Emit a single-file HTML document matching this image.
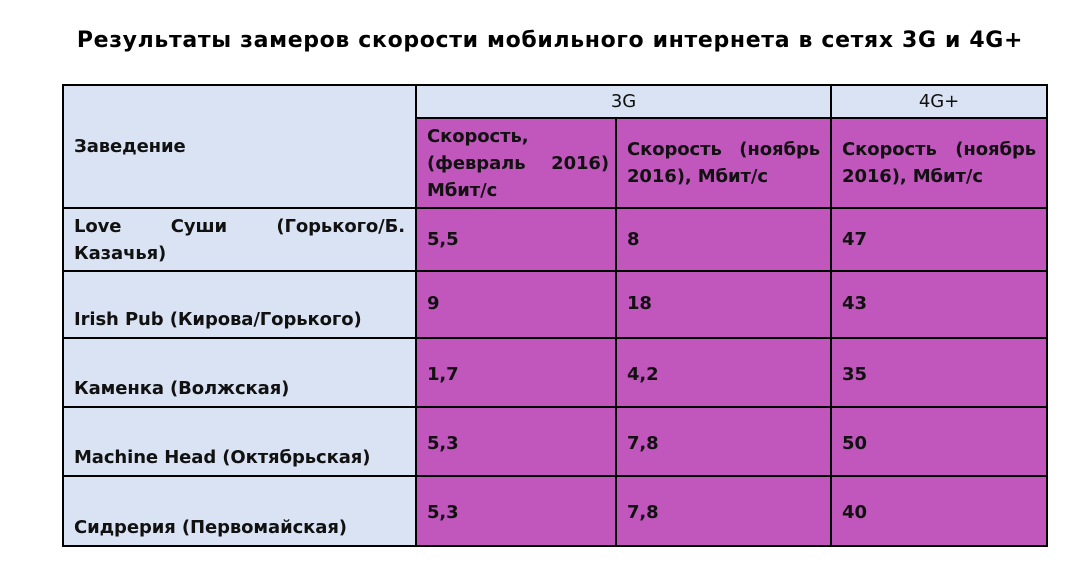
<!DOCTYPE html>
<html><head><meta charset="utf-8"><style>
body{margin:0;width:1079px;height:570px;background:#fff;position:relative;overflow:hidden;font-family:"DejaVu Sans","Liberation Sans",sans-serif;}
.t{position:absolute;top:28px;left:50px;width:1000px;text-align:center;font-weight:bold;font-size:22px;letter-spacing:0.65px;color:#000;white-space:nowrap;}
table{position:absolute;left:62px;top:84px;border-collapse:collapse;table-layout:fixed;width:984px;}
td{border:2px solid #000;font-size:18px;font-weight:bold;letter-spacing:-0.1px;color:#111;padding:0 10px;vertical-align:middle;line-height:27px;overflow:hidden;}
.b{background:#dae3f3;}
.m{background:#c157bd;}
.j{text-align:justify;text-align-last:left;}
</style></head><body>
<div class="t">Результаты замеров скорости мобильного интернета в сетях 3G и 4G+</div>
<table>
<colgroup><col style="width:353px"><col style="width:200px"><col style="width:215px"><col style="width:216px"></colgroup>
<tr style="height:33px"><td class="b" rowspan="2">Заведение</td><td class="b" colspan="2" style="text-align:center;font-weight:normal">3G</td><td class="b" style="text-align:center;font-weight:normal">4G+</td></tr>
<tr style="height:90px"><td class="m j" style="padding-right:6px">Скорость, (февраль 2016) Мбит/с</td><td class="m j">Скорость (ноябрь 2016), Мбит/с</td><td class="m j">Скорость (ноябрь 2016), Мбит/с</td></tr>
<tr style="height:63px"><td class="b j">Love&nbsp;&nbsp;&nbsp;&nbsp;&nbsp;&nbsp;&nbsp;Суши&nbsp;&nbsp;&nbsp;&nbsp;&nbsp;&nbsp;&nbsp;(Горького/Б. Казачья)</td><td class="m">5,5</td><td class="m">8</td><td class="m">47</td></tr>
<tr style="height:67px"><td class="b" style="vertical-align:bottom;padding-bottom:4px">Irish Pub (Кирова/Горького)</td><td class="m" style="vertical-align:top;padding-top:18px">9</td><td class="m" style="vertical-align:top;padding-top:18px">18</td><td class="m" style="vertical-align:top;padding-top:18px">43</td></tr>
<tr style="height:69px"><td class="b" style="vertical-align:bottom;padding-bottom:4px">Каменка (Волжская)</td><td class="m" style="vertical-align:top;padding-top:22px">1,7</td><td class="m" style="vertical-align:top;padding-top:22px">4,2</td><td class="m" style="vertical-align:top;padding-top:22px">35</td></tr>
<tr style="height:69px"><td class="b" style="vertical-align:bottom;padding-bottom:4px">Machine Head (Октябрьская)</td><td class="m" style="vertical-align:top;padding-top:22px">5,3</td><td class="m" style="vertical-align:top;padding-top:22px">7,8</td><td class="m" style="vertical-align:top;padding-top:22px">50</td></tr>
<tr style="height:70px"><td class="b" style="vertical-align:bottom;padding-bottom:4px">Сидрерия (Первомайская)</td><td class="m" style="vertical-align:top;padding-top:22px">5,3</td><td class="m" style="vertical-align:top;padding-top:22px">7,8</td><td class="m" style="vertical-align:top;padding-top:22px">40</td></tr>
</table>
</body></html>
